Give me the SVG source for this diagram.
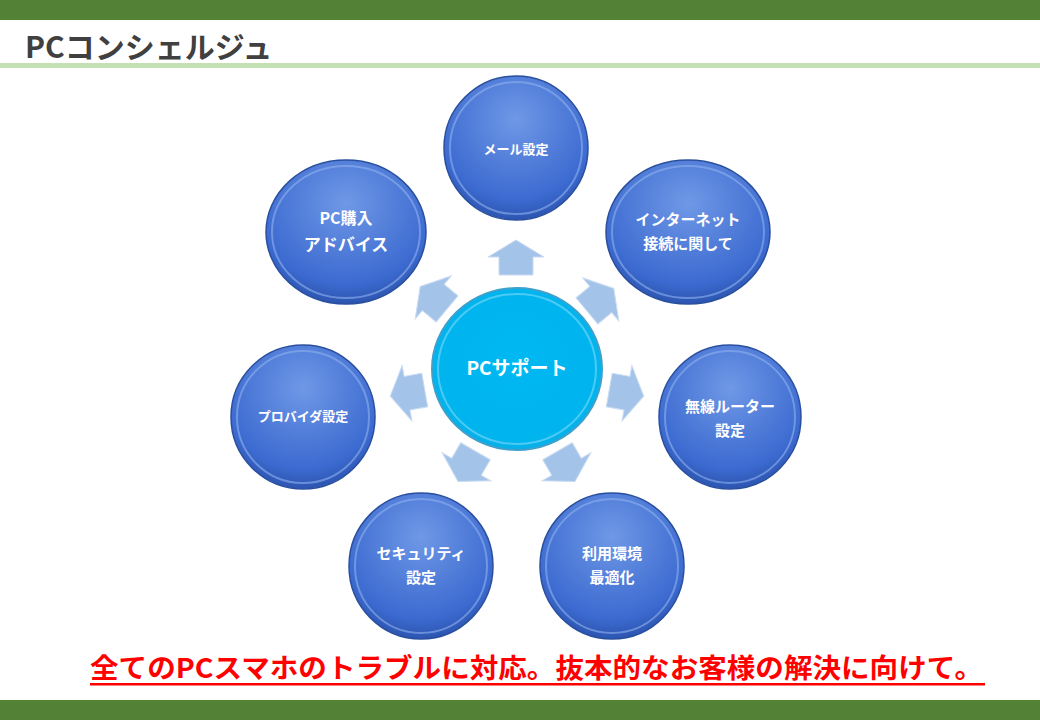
<svg xmlns="http://www.w3.org/2000/svg" width="1040" height="720" viewBox="0 0 1040 720">
<defs>
<style>
text{font-family:"Noto Sans CJK JP","Noto Sans",sans-serif;font-weight:bold;}
.n{fill:url(#gb);stroke:#2a4f9e;stroke-width:1.5;}
.ni{fill:none;stroke:#8fb0ee;stroke-width:2;opacity:.6;}
.t{fill:#fff;font-size:15px;text-anchor:middle;}
.ar{fill:#a3c3e9;stroke:#c9dbf2;stroke-width:1;}
</style>
<radialGradient id="gb" cx="50%" cy="30%" r="70%">
<stop offset="0" stop-color="#6f98e6"/><stop offset="0.8" stop-color="#3c6ad0"/><stop offset="1" stop-color="#2c55b0"/>
</radialGradient>
<radialGradient id="gc" cx="50%" cy="45%" r="60%">
<stop offset="0" stop-color="#00b8f2"/><stop offset="0.85" stop-color="#00b4ee"/><stop offset="1" stop-color="#1aa6d8"/>
</radialGradient>
<polygon id="arr" class="ar" points="0,-18 28,-1 17,-1 17,17 -17,17 -17,-1 -28,-1"/>
</defs>
<rect x="0" y="0" width="1040" height="20" fill="#538135"/>
<rect x="0" y="700" width="1040" height="20" fill="#538135"/>
<rect x="0" y="63" width="1040" height="5" fill="#c5e0b4"/>
<text x="25" y="58" style="font-size:30px;fill:#404040">PCコンシェルジュ</text>
<g id="connectors">
<use href="#arr" transform="translate(516,258)"/>
<use href="#arr" transform="translate(600,300) rotate(50)"/>
<use href="#arr" transform="translate(626,393) rotate(100)"/>
<use href="#arr" transform="translate(566,466) rotate(150)"/>
<use href="#arr" transform="translate(467,466) rotate(-150)"/>
<use href="#arr" transform="translate(408,393) rotate(-100)"/>
<use href="#arr" transform="translate(434,298) rotate(-50)"/>
</g>
<g id="center"><ellipse cx="517" cy="369" rx="85" ry="81" fill="url(#gc)" stroke="#3fa0cc" stroke-width="2"/>
<ellipse cx="517" cy="369" rx="79" ry="75" fill="none" stroke="#7fd8f8" stroke-width="2" opacity=".6"/>
<text class="t" x="517" y="375" style="font-size:19px">PCサポート</text></g>
<g id="mail"><ellipse class="n" cx="516" cy="148" rx="72" ry="72"/><ellipse class="ni" cx="516" cy="148" rx="66" ry="66"/><text class="t" x="516" y="154" style="font-size:13px">メール設定</text></g>
<g id="internet"><ellipse class="n" cx="688" cy="232" rx="82" ry="72"/><ellipse class="ni" cx="688" cy="232" rx="76" ry="66"/><text class="t" x="688" y="225">インターネット</text><text class="t" x="688" y="249">接続に関して</text></g>
<g id="pc"><ellipse class="n" cx="346" cy="232" rx="80" ry="72"/><ellipse class="ni" cx="346" cy="232" rx="74" ry="66"/><text class="t" x="346" y="224" style="font-size:16px">PC購入</text><text class="t" x="346" y="251" style="font-size:17px">アドバイス</text></g>
<g id="wireless"><ellipse class="n" cx="730" cy="417" rx="71" ry="72"/><ellipse class="ni" cx="730" cy="417" rx="65" ry="66"/><text class="t" x="730" y="412">無線ルーター</text><text class="t" x="730" y="436">設定</text></g>
<g id="provider"><ellipse class="n" cx="303" cy="417" rx="72" ry="72"/><ellipse class="ni" cx="303" cy="417" rx="66" ry="66"/><text class="t" x="303" y="421" style="font-size:13px">プロバイダ設定</text></g>
<g id="env"><ellipse class="n" cx="612" cy="566" rx="72" ry="73"/><ellipse class="ni" cx="612" cy="566" rx="66" ry="67"/><text class="t" x="612" y="559">利用環境</text><text class="t" x="612" y="583">最適化</text></g>
<g id="security"><ellipse class="n" cx="421" cy="566" rx="72" ry="73"/><ellipse class="ni" cx="421" cy="566" rx="66" ry="67"/><text class="t" x="421" y="559">セキュリティ</text><text class="t" x="421" y="583">設定</text></g>
<text x="90" y="678" textLength="893" lengthAdjust="spacingAndGlyphs" style="font-size:27px;fill:#ff0000">全てのPCスマホのトラブルに対応。抜本的なお客様の解決に向けて。</text>
<rect x="90" y="683" width="895" height="2.5" fill="#ff0000"/>
</svg>
